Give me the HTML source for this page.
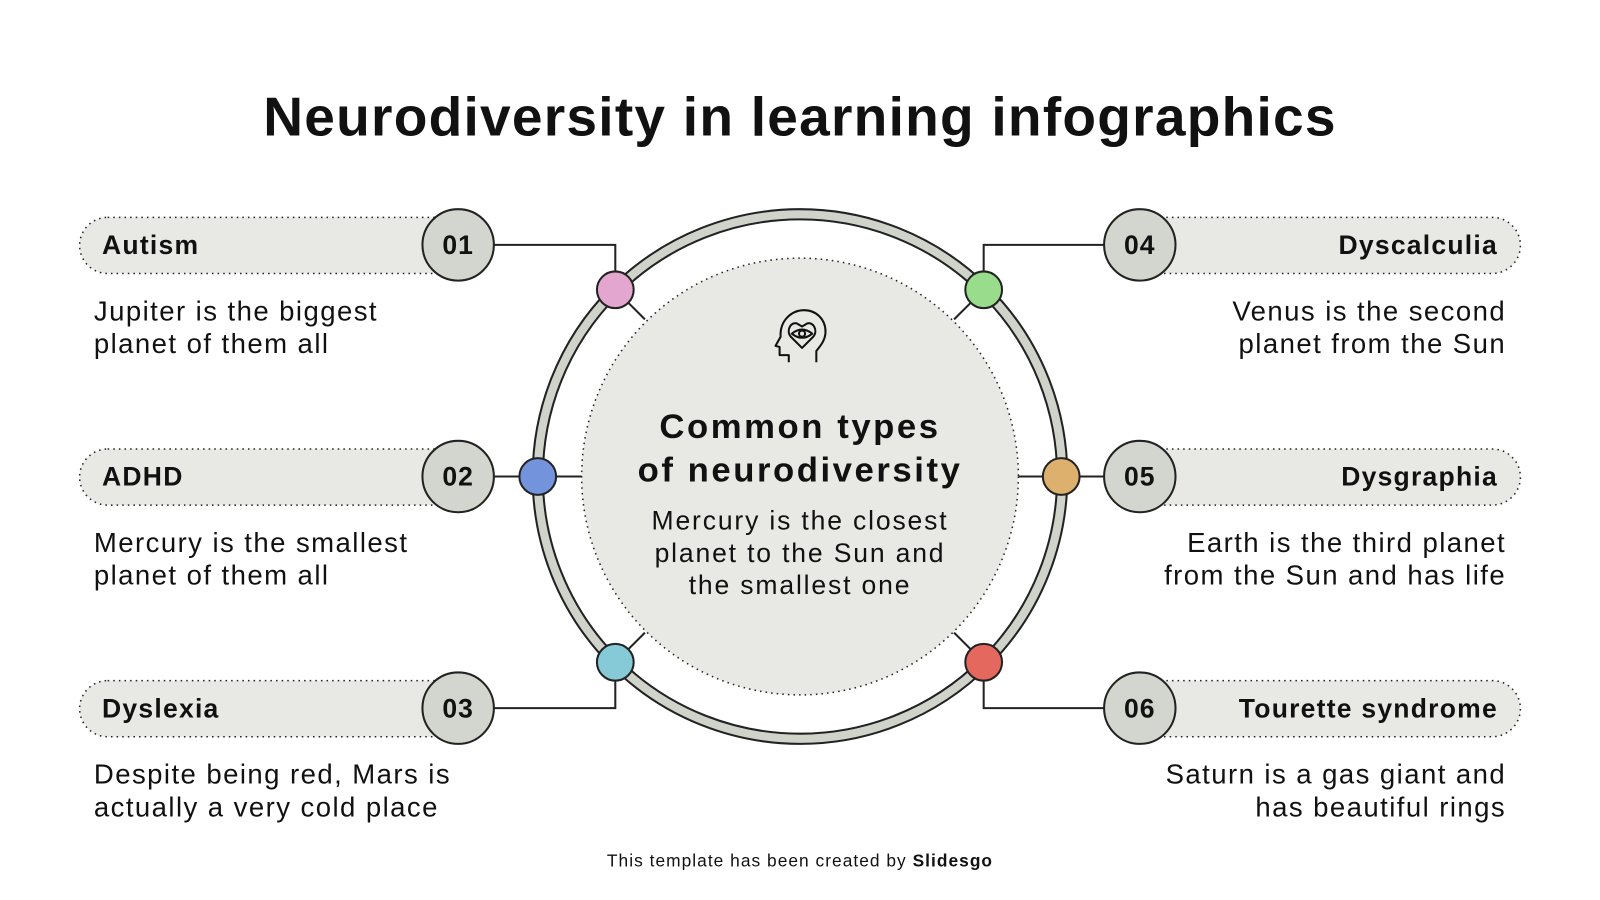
<!DOCTYPE html>
<html><head><style>
body{margin:0;width:1600px;height:900px;background:#fff;font-family:"Liberation Sans",sans-serif;color:#111;overflow:hidden}
#w{position:absolute;left:0;top:0;width:1568px;height:882px;transform:scale(1.020408);transform-origin:0 0}
.t{position:absolute;white-space:nowrap}
.h{font-size:26px;font-weight:bold;letter-spacing:1.2px}
.b{font-size:27px;line-height:32px;letter-spacing:1.4px}
</style></head><body><div id="w">
<div class="t" style="left:0;width:1568px;top:84px;text-align:center;font-size:54px;font-weight:bold;letter-spacing:1.2px">Neurodiversity in learning infographics</div>
<svg width="1568" height="882" style="position:absolute;left:0;top:0">
<g fill="#e8e9e5" stroke="#222" stroke-width="1.5" stroke-dasharray="1.5 4">
<rect x="78" y="213" width="380" height="55" rx="27.5"/>
<rect x="78" y="440" width="380" height="55" rx="27.5"/>
<rect x="78" y="667" width="380" height="55" rx="27.5"/>
<rect x="1110" y="213" width="380" height="55" rx="27.5"/>
<rect x="1110" y="440" width="380" height="55" rx="27.5"/>
<rect x="1110" y="667" width="380" height="55" rx="27.5"/>
</g>
<g stroke="#222" stroke-width="2" fill="none">
<polyline points="484,240 603,240 603,284"/>
<polyline points="484,467 570,467"/>
<polyline points="484,694 603,694 603,649"/>
<polyline points="1083,240 964,240 964,284"/>
<polyline points="1083,467 998,467"/>
<polyline points="1083,694 964,694 964,649"/>
<line x1="603" y1="284" x2="632" y2="313"/>
<line x1="603" y1="649" x2="632" y2="620"/>
<line x1="964" y1="284" x2="935" y2="313"/>
<line x1="964" y1="649" x2="935" y2="620"/>
</g>
<circle cx="784" cy="467" r="257" fill="none" stroke="#cfd3ca" stroke-width="10"/>
<circle cx="784" cy="467" r="262" fill="none" stroke="#222" stroke-width="2"/>
<circle cx="784" cy="467" r="252" fill="none" stroke="#222" stroke-width="2"/>
<circle cx="784" cy="467" r="214" fill="#e8e9e5" stroke="#222" stroke-width="1.5" stroke-dasharray="1.5 4"/>
<g stroke="#222" stroke-width="2">
<circle cx="449" cy="240" r="35" fill="#d3d6cf"/>
<circle cx="449" cy="467" r="35" fill="#d3d6cf"/>
<circle cx="449" cy="694" r="35" fill="#d3d6cf"/>
<circle cx="1117" cy="240" r="35" fill="#d3d6cf"/>
<circle cx="1117" cy="467" r="35" fill="#d3d6cf"/>
<circle cx="1117" cy="694" r="35" fill="#d3d6cf"/>
<circle cx="603" cy="284" r="18" fill="#e3a6ce"/>
<circle cx="527" cy="467" r="18" fill="#7394dc"/>
<circle cx="603" cy="649" r="18" fill="#86cad8"/>
<circle cx="964" cy="284" r="18" fill="#98dc8c"/>
<circle cx="1040" cy="467" r="18" fill="#deb06e"/>
<circle cx="964" cy="649" r="18" fill="#e5685e"/>
</g>
<g fill="none" stroke="#111" stroke-width="2" stroke-linejoin="round">
<path d="M773,355 L773,348 L764,348 L764,340 L760,339 L765,330 C764,314 776,304 788,304 C800,304 809,313 809,325 C809,334 803,340 800,344 L800,355"/>
<path d="M786,341 L775,330 C770,324 775,315 781,317 L786,320 L791,317 C797,315 802,324 797,330 Z"/>
<path d="M776,327 Q786,319 796,327 Q786,335 776,327 Z"/>
<circle cx="786" cy="327" r="3"/>
</g>
<g font-size="26" font-weight="bold" text-anchor="middle" font-family="Liberation Sans,sans-serif" fill="#111" letter-spacing="1">
<text x="449" y="249">01</text><text x="449" y="476">02</text><text x="449" y="703">03</text>
<text x="1117" y="249">04</text><text x="1117" y="476">05</text><text x="1117" y="703">06</text>
</g>
</svg>
<div class="t h" style="left:100px;top:225px">Autism</div>
<div class="t h" style="left:100px;top:452px">ADHD</div>
<div class="t h" style="left:100px;top:679px">Dyslexia</div>
<div class="t h" style="right:100px;top:225px">Dyscalculia</div>
<div class="t h" style="right:100px;top:452px">Dysgraphia</div>
<div class="t h" style="right:100px;top:679px">Tourette syndrome</div>
<div class="t b" style="left:92px;top:289px">Jupiter is the biggest<br>planet of them all</div>
<div class="t b" style="left:92px;top:516px">Mercury is the smallest<br>planet of them all</div>
<div class="t b" style="left:92px;top:743px">Despite being red, Mars is<br>actually a very cold place</div>
<div class="t b" style="right:92px;top:289px;text-align:right">Venus is the second<br>planet from the Sun</div>
<div class="t b" style="right:92px;top:516px;text-align:right">Earth is the third planet<br>from the Sun and has life</div>
<div class="t b" style="right:92px;top:743px;text-align:right">Saturn is a gas giant and<br>has beautiful rings</div>
<div class="t" style="left:584px;width:400px;top:397px;text-align:center;font-size:34px;font-weight:bold;line-height:43px;letter-spacing:2.5px">Common types<br>of neurodiversity</div>
<div class="t" style="left:584px;width:400px;top:495px;text-align:center;font-size:26px;line-height:31.5px;letter-spacing:1.8px">Mercury is the closest<br>planet to the Sun and<br>the smallest one</div>
<div class="t" style="left:0;width:1568px;top:834px;text-align:center;font-size:17px;letter-spacing:1px">This template has been created by <b>Slidesgo</b></div>
</div></body></html>
